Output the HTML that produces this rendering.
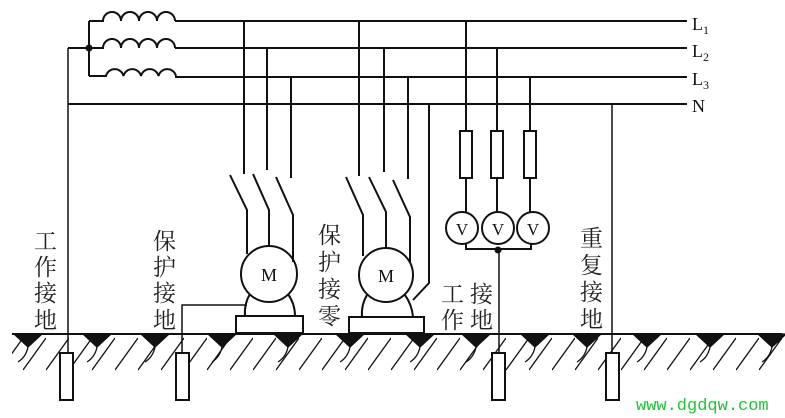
<!DOCTYPE html>
<html><head><meta charset="utf-8"><style>
html,body{margin:0;padding:0;background:#fff;width:785px;height:418px;overflow:hidden}
svg{display:block}
.t{font-family:"Liberation Serif","Noto Serif CJK SC",serif;font-size:23px;fill:#222}
</style></head><body>
<svg width="785" height="418" viewBox="0 0 785 418" xmlns="http://www.w3.org/2000/svg">
<defs>
<pattern id="h" width="23" height="40" patternUnits="userSpaceOnUse" x="0" y="336">
<line x1="0" y1="34" x2="23" y2="2" stroke="#111" stroke-width="1.3"/>
</pattern>
</defs>
<g stroke="#111" stroke-width="2" fill="none">
<!-- buses -->
<line x1="175" y1="21" x2="687" y2="21"/>
<line x1="175" y1="48" x2="687" y2="48"/>
<line x1="175" y1="77" x2="687" y2="77"/>
<line x1="68" y1="104" x2="687" y2="104"/>
<!-- coils -->
<path d="M89 21 H103 a9 9 0 0 1 18 0 a9 9 0 0 1 18 0 a9 9 0 0 1 18 0 a9 9 0 0 1 18 0"/>
<path d="M68 48 H103 a9 9 0 0 1 18 0 a9 9 0 0 1 18 0 a9 9 0 0 1 18 0 a9 9 0 0 1 18 0"/>
<path d="M89 76 H106 a9 9 0 0 1 17.5 0 a9 9 0 0 1 17.5 0 a9 9 0 0 1 17.5 0 a9 9 0 0 1 17.5 0"/>
<line x1="89" y1="21" x2="89" y2="76"/>
<line x1="68" y1="48" x2="68" y2="365" stroke-width="1.5"/>
<!-- motor 1 -->
<line x1="244" y1="21" x2="244" y2="174"/>
<line x1="267" y1="48" x2="267" y2="170"/>
<line x1="291" y1="77" x2="291" y2="178"/>
<polyline points="230,175 247,210 247,254"/>
<polyline points="253,174 269,210 269,247"/>
<polyline points="276,177 293,215 293,262"/>
<circle cx="269" cy="274" r="28"/>
<path d="M250 294 Q244 304 245 316"/>
<path d="M288 294 Q295 304 295 316"/>
<rect x="236" y="316" width="67" height="17"/>
<polyline points="247,305 182,305 182,365" stroke-width="1.5"/>
<!-- motor 2 -->
<line x1="359" y1="21" x2="359" y2="176"/>
<line x1="384" y1="48" x2="384" y2="172"/>
<line x1="408" y1="77" x2="408" y2="179"/>
<polyline points="346,177 363,215 363,256"/>
<polyline points="369,177 386,212 386,248"/>
<polyline points="393,180 410,217 410,263"/>
<circle cx="386" cy="275" r="27"/>
<path d="M367 295 Q361 305 362 317"/>
<path d="M405 295 Q412 305 413 317"/>
<rect x="349" y="317" width="75" height="16"/>
<polyline points="429,104 429,283 413,300"/>
<!-- meters -->
<line x1="466" y1="21" x2="466" y2="212"/>
<line x1="497" y1="48" x2="497" y2="212"/>
<line x1="530" y1="77" x2="530" y2="212"/>
<rect x="460" y="131" width="12" height="47" fill="#fff"/>
<rect x="491" y="131" width="12" height="47" fill="#fff"/>
<rect x="524" y="131" width="12" height="47" fill="#fff"/>
<circle cx="462" cy="228" r="16" fill="#fff"/>
<circle cx="498" cy="228" r="16" fill="#fff"/>
<circle cx="533" cy="228" r="16" fill="#fff"/>
<polyline points="466,243 466,249 531,249 531,243"/>
<line x1="499" y1="249" x2="499" y2="365" stroke-width="1.5"/>
<line x1="612" y1="104" x2="612" y2="365" stroke-width="1.5"/>
<!-- ground -->
<rect x="12" y="336" width="770" height="36" fill="url(#h)" stroke="none"/>
<line x1="12" y1="334" x2="782" y2="334"/>
<rect x="60" y="353" width="13" height="47" fill="#fff"/>
<rect x="176" y="353" width="13" height="47" fill="#fff"/>
<rect x="492" y="353" width="13" height="47" fill="#fff"/>
<rect x="606" y="353" width="13" height="47" fill="#fff"/>
</g>
<g fill="#111">
<circle cx="89" cy="48" r="3.5"/>
<circle cx="498" cy="250" r="3.5"/>
</g>
<g fill="#111" stroke="#111" stroke-width="1.3">
<path d="M14 334 h28 l-14 13z"/>
<path d="M83 334 h28 l-14 13z"/>
<path d="M141 334 h28 l-14 13z"/>
<path d="M208 334 h28 l-14 13z"/>
<path d="M274 334 h28 l-14 13z"/>
<path d="M336 334 h28 l-14 13z"/>
<path d="M406 334 h28 l-14 13z"/>
<path d="M462 334 h28 l-14 13z"/>
<path d="M521 334 h28 l-14 13z"/>
<path d="M573 334 h28 l-14 13z"/>
<path d="M633 334 h28 l-14 13z"/>
<path d="M696 334 h28 l-14 13z"/>
<path d="M758 334 h28 l-14 13z"/>
</g>
<g fill="none" stroke="#111" stroke-width="1.3">
<path d="M28 347 q-2 10 -10 15"/><path d="M97 347 q-2 10 -10 15"/><path d="M155 347 q-2 10 -10 15"/>
<path d="M222 347 q-2 10 -10 15"/><path d="M288 347 q-2 10 -10 15"/><path d="M350 347 q-2 10 -10 15"/>
<path d="M420 347 q-2 10 -10 15"/><path d="M476 347 q-2 10 -10 15"/><path d="M535 347 q-2 10 -10 15"/>
<path d="M587 347 q-2 10 -10 15"/><path d="M647 347 q-2 10 -10 15"/><path d="M710 347 q-2 10 -10 15"/>
<path d="M772 347 q-2 10 -10 15"/>
</g>
<!-- labels -->
<g font-family="Liberation Serif, serif" fill="#111">
<text x="692" y="30" font-size="18">L<tspan font-size="12" dy="4">1</tspan></text>
<text x="692" y="57" font-size="18">L<tspan font-size="12" dy="4">2</tspan></text>
<text x="692" y="85" font-size="18">L<tspan font-size="12" dy="4">3</tspan></text>
<text x="692" y="112" font-size="18">N</text>
<text x="269" y="281" font-size="18" text-anchor="middle">M</text>
<text x="386" y="282" font-size="18" text-anchor="middle">M</text>
<text x="462" y="235" font-size="17" text-anchor="middle">V</text>
<text x="498" y="235" font-size="17" text-anchor="middle">V</text>
<text x="533" y="235" font-size="17" text-anchor="middle">V</text>
</g>
<g class="t">
<text x="34" y="249">工</text><text x="34" y="275">作</text><text x="34" y="301">接</text><text x="34" y="328">地</text>
<text x="153" y="249">保</text><text x="153" y="275">护</text><text x="153" y="301">接</text><text x="153" y="328">地</text>
<text x="318" y="243">保</text><text x="318" y="270">护</text><text x="318" y="297">接</text><text x="318" y="324">零</text>
<text x="441" y="302">工</text><text x="441" y="328">作</text>
<text x="470" y="302">接</text><text x="470" y="328">地</text>
<text x="580" y="246">重</text><text x="580" y="273">复</text><text x="580" y="300">接</text><text x="580" y="327">地</text>
</g>
<text x="636" y="410" font-family="Liberation Mono, monospace" font-size="17" fill="#22c33a">www.dgdqw.com</text>
</svg>
</body></html>
